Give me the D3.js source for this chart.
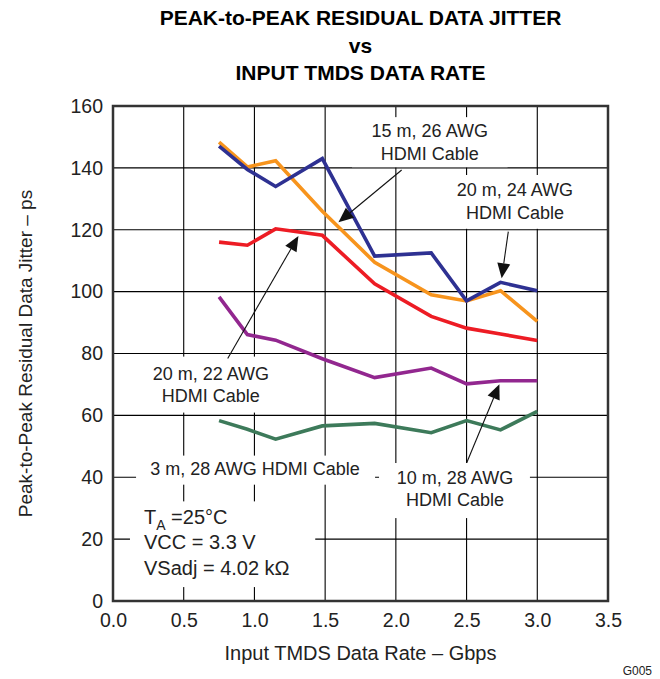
<!DOCTYPE html>
<html><head><meta charset="utf-8">
<script src="https://cdn.jsdelivr.net/npm/d3@7"></script>
<style>
html,body{margin:0;padding:0;background:#fff;}
svg{display:block;font-family:"Liberation Sans",Arial,Helvetica,sans-serif;}
</style></head>
<body>
<svg id="chart" width="660" height="679"></svg>
<script>
// ---- data ----
const rates = [0.75, 0.95, 1.15, 1.48, 1.85, 2.25, 2.5, 2.74, 3.0];
const cable15m26 = [147, 139.5, 134, 143, 111.5, 112.5, 97, 103, 100.3];
const cable20m24 = [148.3, 140.3, 142.3, 126, 109.5, 99, 97, 100.3, 90.4];
const cable20m22 = [116, 115, 120.3, 118.2, 102.5, 92, 88.2, 86.3, 84.2];
const cable10m28 = [98.3, 86.1, 84.3, 78.3, 72.2, 75.3, 70.2, 71.2, 71.2];
const cable3m28  = [58.3, 55.5, 52.3, 56.6, 57.4, 54.4, 58.3, 55.3, 61.3];
const xTicks = [0, 0.5, 1.0, 1.5, 2.0, 2.5, 3.0, 3.5];
const yTicks = [0, 20, 40, 60, 80, 100, 120, 140, 160];
const titleLines = ["PEAK-to-PEAK RESIDUAL DATA JITTER", "vs", "INPUT TMDS DATA RATE"];
const xTitle = "Input TMDS Data Rate \u2013 Gbps";
const yTitle = "Peak-to-Peak Residual Data Jitter \u2013 ps";

const series = [
  {name:"3 m, 28 AWG", values:cable3m28, color:"#3d7a5a"},
  {name:"10 m, 28 AWG", values:cable10m28, color:"#92278f"},
  {name:"20 m, 22 AWG", values:cable20m22, color:"#ed1c24"},
  {name:"20 m, 24 AWG", values:cable20m24, color:"#f7941d"},
  {name:"15 m, 26 AWG", values:cable15m26, color:"#2e3192"}
];

// ---- layout ----
const svg = d3.select("#chart");
const L = 113, R = 608, T = 106, B = 601;
const x = d3.scaleLinear().domain([0, 3.5]).range([L, R]);
const y = d3.scaleLinear().domain([0, 160]).range([B, T]);

// gridlines
const grid = svg.append("g").attr("stroke", "#000").attr("stroke-width", 1.1);
grid.selectAll("line.v").data(xTicks.slice(1, -1)).join("line")
  .attr("x1", d => x(d)).attr("x2", d => x(d)).attr("y1", T).attr("y2", B);
grid.selectAll("line.h").data(yTicks.slice(1, -1)).join("line")
  .attr("y1", d => y(d)).attr("y2", d => y(d)).attr("x1", L).attr("x2", R);

// white label boxes (data-space extents)
const boxes = [
  [1.69, 2.79, 156.4, 140.2],
  [2.333, 3.359, 137.7, 120.3],
  [0.19, 1.25, 79.0, 60.9],
  [0.163, 1.853, 47.0, 37.6],
  [1.881, 2.948, 44.6, 26.8],
  [0.12, 1.43, 32.2, 4.5]
];
svg.append("g").selectAll("rect").data(boxes).join("rect")
  .attr("x", d => x(d[0])).attr("width", d => x(d[1]) - x(d[0]))
  .attr("y", d => y(d[2])).attr("height", d => y(d[3]) - y(d[2]))
  .attr("fill", "#fff");

// frame
svg.append("rect").attr("x", L).attr("y", T).attr("width", R - L).attr("height", B - T)
  .attr("fill", "none").attr("stroke", "#333").attr("stroke-width", 2.5);

// series lines
const line = d3.line().x((d, i) => x(rates[i])).y(d => y(d));
svg.append("g").selectAll("path").data(series).join("path")
  .attr("d", d => line(d.values)).attr("fill", "none")
  .attr("stroke", d => d.color).attr("stroke-width", 3.6)
  .attr("stroke-linejoin", "miter").attr("stroke-linecap", "butt");

// axes tick labels
const xAxis = d3.axisBottom(x).tickValues(xTicks).tickFormat(d3.format(".1f")).tickSize(0).tickPadding(12);
const gx = svg.append("g").attr("transform", `translate(0,${B})`).call(xAxis);
gx.select(".domain").remove();
gx.selectAll("text").attr("font-size", 19.5).attr("fill", "#222").attr("font-family", "Liberation Sans, Arial, sans-serif");
const yAxis = d3.axisLeft(y).tickValues(yTicks).tickFormat(d3.format("d")).tickSize(0).tickPadding(10);
const gy = svg.append("g").attr("transform", `translate(${L},0)`).call(yAxis);
gy.select(".domain").remove();
gy.selectAll("text").attr("font-size", 19.5).attr("fill", "#222").attr("font-family", "Liberation Sans, Arial, sans-serif");

// axis titles
svg.append("text").attr("x", (L + R) / 2).attr("y", 660).attr("text-anchor", "middle")
  .attr("font-size", 20).attr("fill", "#222").text(xTitle);
svg.append("text").attr("transform", `translate(32,${(T + B) / 2}) rotate(-90)`)
  .attr("text-anchor", "middle").attr("font-size", 19).attr("fill", "#222").text(yTitle);

// title
svg.append("g").selectAll("text").data(titleLines).join("text")
  .attr("x", (L + R) / 2).attr("y", (d, i) => 25 + i * 27.5)
  .attr("text-anchor", "middle").attr("font-weight", "bold").attr("font-size", 21)
  .attr("fill", "#000").text(d => d);

// G005
svg.append("text").attr("x", 652).attr("y", 675).attr("text-anchor", "end")
  .attr("font-size", 12).attr("fill", "#222").text("G005");

// annotations: [label lines, cx, cy(data), arrow from, arrow tip]
const annotations = [
  {lines:["15 m, 26 AWG", "HDMI Cable"], cx:2.24, cy:151.9, from:[2.041, 139.3], to:[1.594, 122.4]},
  {lines:["20 m, 24 AWG", "HDMI Cable"], cx:2.842, cy:132.8, from:[2.795, 119.4], to:[2.748, 104.3]},
  {lines:["20 m, 22 AWG", "HDMI Cable"], cx:0.692, cy:73.6, from:[0.811, 78.4], to:[1.311, 118.0]},
  {lines:["3 m, 28 AWG HDMI Cable"], cx:1.004, cy:42.9, from:null, to:null},
  {lines:["10 m, 28 AWG", "HDMI Cable"], cx:2.418, cy:40.0, from:[2.501, 44.7], to:[2.732, 70.1]}
];
const ag = svg.append("g");
annotations.forEach(a => {
  a.lines.forEach((t, i) => {
    ag.append("text").attr("x", x(a.cx)).attr("y", y(a.cy) + i * 22.5)
      .attr("dy", "0.35em").attr("text-anchor", "middle").attr("font-size", 18)
      .attr("fill", "#222").text(t);
  });
  if (a.from) {
    const x1 = x(a.from[0]), y1 = y(a.from[1]), x2 = x(a.to[0]), y2 = y(a.to[1]);
    const ang = Math.atan2(y2 - y1, x2 - x1);
    const len = 15, hw = 6.5;
    const bx = x2 - len * Math.cos(ang), by = y2 - len * Math.sin(ang);
    ag.append("line").attr("x1", x1).attr("y1", y1).attr("x2", bx).attr("y2", by)
      .attr("stroke", "#111").attr("stroke-width", 1.1);
    const px = -Math.sin(ang) * hw, py = Math.cos(ang) * hw;
    ag.append("path").attr("d", `M${x2},${y2}L${bx + px},${by + py}L${bx - px},${by - py}Z`)
      .attr("fill", "#111");
  }
});

// conditions text
const cg = svg.append("g").attr("font-size", 20).attr("fill", "#222");
const cx0 = x(0.219);
const t1 = cg.append("text").attr("x", cx0).attr("y", y(27.3)).attr("dy", "0.35em");
t1.append("tspan").text("T");
t1.append("tspan").attr("font-size", 14).attr("dy", "0.45em").text("A");
t1.append("tspan").attr("dy", "-0.3em").text(" =25\u00B0C");
cg.append("text").attr("x", cx0).attr("y", y(19.0)).attr("dy", "0.35em").text("VCC = 3.3 V");
cg.append("text").attr("x", cx0).attr("y", y(10.7)).attr("dy", "0.35em").text("VSadj = 4.02 k\u03A9");
</script>
</body></html>
